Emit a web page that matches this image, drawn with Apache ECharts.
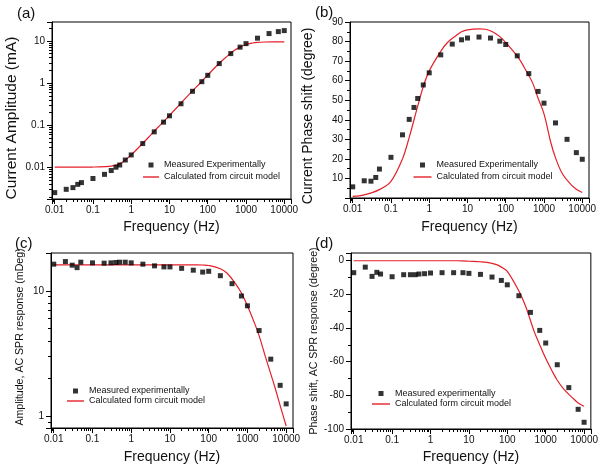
<!DOCTYPE html>
<html><head><meta charset="utf-8">
<script src="https://cdn.jsdelivr.net/npm/echarts@6/dist/echarts.min.js"></script>
<style>html,body{margin:0;padding:0;background:#fff}#c{width:601px;height:471px}</style>
</head><body><div id="c"></div>
<script>
// ---------- data ----------
const freq = [0.01,0.02,0.03,0.04,0.05,0.1,0.2,0.3,0.4,0.5,0.7,1,2,4,7,10,20,40,70,100,200,400,700,1000,2000,4000,7000,10000];
const ampMeasured = [0.00255,0.00305,0.00335,0.0040,0.0044,0.0055,0.0069,0.0085,0.0102,0.0115,0.0151,0.0199,0.037,0.070,0.119,0.168,0.324,0.64,1.08,1.53,2.9,5.0,7.1,8.6,11.6,14.9,16.6,17.5];
const phaseMeasured = [5.7,8.8,8.6,10.5,14.8,20.8,32.3,40.2,46.3,50.9,57.8,64,73.2,78.7,80.9,81.8,82.3,81.8,80.2,78.5,72.7,63.6,54.5,48.5,38.4,30,23.2,19.8];
const sprAmpMeasured = [16.3,17.1,16.0,15.3,16.9,16.7,16.6,16.7,16.8,16.9,16.9,16.7,16.3,15.8,15.5,15.5,15.1,14.6,14.1,14.3,13.2,11.4,9.1,7.6,4.83,2.86,1.77,1.26];
const sprPhaseMeasured = [-7.1,-3.8,-9.3,-6.9,-7.9,-9.5,-8.3,-8.3,-8.3,-7.9,-7.7,-7.3,-7.1,-7.1,-7.1,-7.5,-8.1,-9.7,-11.7,-14.3,-20.8,-30.7,-41.4,-48.9,-61.8,-75.4,-88.3,-96.0];

const modelFreq = [0.01,0.02,0.05,0.1,0.2,0.3,0.5,0.7,1,2,3,5,7,10,20,30,50,70,100,200,300,500,700,1000,1500,2000,3000,5000,7000,10000];
const ampModel = [0.0102,0.0102,0.0102,0.0103,0.0105,0.0108,0.0122,0.0150,0.0200,0.0375,0.055,0.09,0.122,0.172,0.335,0.5,0.8,1.1,1.55,2.95,4.1,6.0,7.1,8.2,8.9,9.2,9.4,9.5,9.5,9.5];
const phaseModel = [0.8,1.6,4.3,8.5,20,31,47,57,65,75,79.5,83,85,86,86.5,86.3,84.5,82.5,79.5,72.5,67,59,51,43,28.5,20.5,12.5,7,4.5,2.8];
const sprAmpModel = [16.1,16.1,16.1,16.1,16.1,16.1,16.1,16.1,16.1,16.1,16.1,16.1,16.1,16.1,16.1,16.1,16.1,16.05,15.9,15.0,13.8,11.3,9.6,7.6,5.6,4.4,2.9,1.75,1.22,0.84];
const sprPhaseModel = [0,0,0,0,0,0,0,0,0,0,0,0,-0.1,-0.3,-0.6,-1.0,-2.2,-3.8,-6.3,-18,-27,-42,-50,-58,-66,-71,-76.5,-81.5,-84.5,-86.5];

const names = {
  measA: 'Measured Experimentally', calcA: 'Calculated from circuit model',
  measC: 'Measured experimentally', calcC: 'Calculated form circuit model'
};
const xTitle = 'Frequency (Hz)';
const yTitles = ['Current Amplitude (mA)', 'Current Phase shift (degree)', 'Amplitude, AC SPR response (mDeg)', 'Phase shift, AC SPR response (degree)'];
const panelLabels = ['(a)', '(b)', '(c)', '(d)'];

// ---------- styling / layout ----------
const X_MIN = 0.0085, X_MAX = 15000;
const RED = '#e4202a';
const INK = '#000';
const FONT = 'Liberation Sans, Arial, sans-serif';

function fmt(v) { return String(+(+v).toPrecision(6)); }
function tickOn() { return { show: true, inside: false, length: 5, lineStyle: { color: INK, width: 1 } }; }
function minorOn(n) { return { show: true, length: 3, splitNumber: n, lineStyle: { color: INK, width: 1 } }; }

function xAxisDef(idx, gap) {
  return {
    type: 'log', gridIndex: idx, min: X_MIN, max: X_MAX, logBase: 10,
    name: xTitle, nameLocation: 'middle', nameGap: gap,
    nameTextStyle: { fontFamily: FONT, fontSize: 14, color: '#111' },
    axisLine: { show: true, onZero: false, lineStyle: { color: INK, width: 1 } },
    axisTick: tickOn(), minorTick: minorOn(9), splitLine: { show: false }, minorSplitLine: { show: false },
    axisLabel: { fontFamily: FONT, fontSize: 10, color: '#111', margin: 6, formatter: fmt, showMinLabel: false, showMaxLabel: false }
  };
}
function yAxisBase(idx, n) {
  return {
    gridIndex: idx,
    axisLine: { show: true, onZero: false, lineStyle: { color: INK, width: 1 } },
    axisTick: tickOn(), minorTick: minorOn(n), splitLine: { show: false }, minorSplitLine: { show: false },
    axisLabel: { fontFamily: FONT, fontSize: 10, color: '#111', margin: 7, formatter: fmt }
  };
}

const sqIcon = 'path://M0,0H1V1H0Z';
function lineIcon(w) { return 'path://M0,0H' + w + 'V1.4H0Z'; }
function legendDef(left, top, w, gap, m, c) {
  return {
    orient: 'vertical', left: left, top: top, itemWidth: w, itemHeight: 5, itemGap: gap,
    selectedMode: false, padding: 0,
    textStyle: { fontFamily: FONT, fontSize: 9, color: '#111' },
    data: [{ name: m, icon: sqIcon }, { name: c, icon: lineIcon(w) }]
  };
}
function scatter(idx, name, ys) {
  return { type: 'scatter', name: name, xAxisIndex: idx, yAxisIndex: idx, symbol: 'rect', symbolSize: 5,
    itemStyle: { color: '#000' }, z: 3, data: freq.map((f, i) => [f, ys[i]]) };
}
function model(idx, name, ys) {
  return { type: 'line', name: name, xAxisIndex: idx, yAxisIndex: idx, showSymbol: false, symbol: 'none', smooth: 0.35,
    lineStyle: { color: RED, width: 1.2 }, itemStyle: { color: RED }, z: 2,
    data: modelFreq.map((f, i) => [f, ys[i]]) };
}

const grids = [
  { left: 52, top: 22, width: 239, height: 177 },
  { left: 350, top: 22, width: 239, height: 176 },
  { left: 51, top: 253, width: 242, height: 175 },
  { left: 351, top: 253, width: 242, height: 176 }
].map(g => Object.assign(g, { show: true, borderColor: INK, borderWidth: 1, backgroundColor: 'transparent' }));

const Y = [
  { min: 0.0018, max: 28 },
  { min: 0, max: 90 },
  { min: 0.81, max: 20 },
  { min: -100, max: 4.6 }
];

const yAxes = [
  Object.assign(yAxisBase(0, 9), { type: 'log', logBase: 10, min: Y[0].min, max: Y[0].max }),
  Object.assign(yAxisBase(1, 2), { type: 'value', min: Y[1].min, max: Y[1].max, interval: 10 }),
  Object.assign(yAxisBase(2, 9), { type: 'log', logBase: 10, min: Y[2].min, max: Y[2].max }),
  Object.assign(yAxisBase(3, 2), { type: 'value', min: Y[3].min, max: Y[3].max, interval: 20 })
];
yAxes[0].axisLabel = Object.assign({}, yAxes[0].axisLabel, { showMinLabel: false, showMaxLabel: false });
yAxes[1].axisLabel = Object.assign({}, yAxes[1].axisLabel, { showMinLabel: false });
yAxes[2].axisLabel = Object.assign({}, yAxes[2].axisLabel, { showMinLabel: false, showMaxLabel: false });
yAxes[3].axisLabel = Object.assign({}, yAxes[3].axisLabel, { showMaxLabel: false });

// panel labels and rotated y titles
const titleLayout = [
  { cx: 12, cy: 118, size: 15.5 },
  { cx: 308, cy: 116, size: 14 },
  { cx: 20.5, cy: 337, size: 10.6 },
  { cx: 314, cy: 341, size: 10.6 }
];
const labelLayout = [[17, 6], [315, 5], [15, 236], [315, 236]];
const graphics = [];
panelLabels.forEach((t, i) => graphics.push({ type: 'text', x: labelLayout[i][0], y: labelLayout[i][1],
  style: { text: t, font: '15px ' + FONT, fill: '#111' } }));
yTitles.forEach((t, i) => graphics.push({ type: 'text', x: titleLayout[i].cx, y: titleLayout[i].cy, rotation: Math.PI / 2,
  style: { text: t, font: titleLayout[i].size + 'px ' + FONT, fill: '#111', align: 'center', verticalAlign: 'middle' } }));

const option = {
  animation: false,
  backgroundColor: '#fff',
  grid: grids,
  xAxis: [xAxisDef(0, 21), xAxisDef(1, 22), xAxisDef(2, 22), xAxisDef(3, 21)],
  yAxis: yAxes,
  legend: [
    legendDef(143, 160.5, 16, 3, names.measA, names.calcA),
    legendDef(413.5, 160.5, 18, 3, names.measA, names.calcA),
    legendDef(67, 386.5, 17, 1, names.measC, names.calcC),
    legendDef(372, 389, 18, 1.5, names.measC, names.calcC)
  ],
  graphic: graphics,
  series: [
    model(0, names.calcA, ampModel), scatter(0, names.measA, ampMeasured),
    model(1, names.calcA, phaseModel), scatter(1, names.measA, phaseMeasured),
    model(2, names.calcC, sprAmpModel), scatter(2, names.measC, sprAmpMeasured),
    model(3, names.calcC, sprPhaseModel), scatter(3, names.measC, sprPhaseMeasured)
  ]
};

const chart = echarts.init(document.getElementById('c'), null, { renderer: 'canvas' });
chart.setOption(option);
</script>
</body></html>
